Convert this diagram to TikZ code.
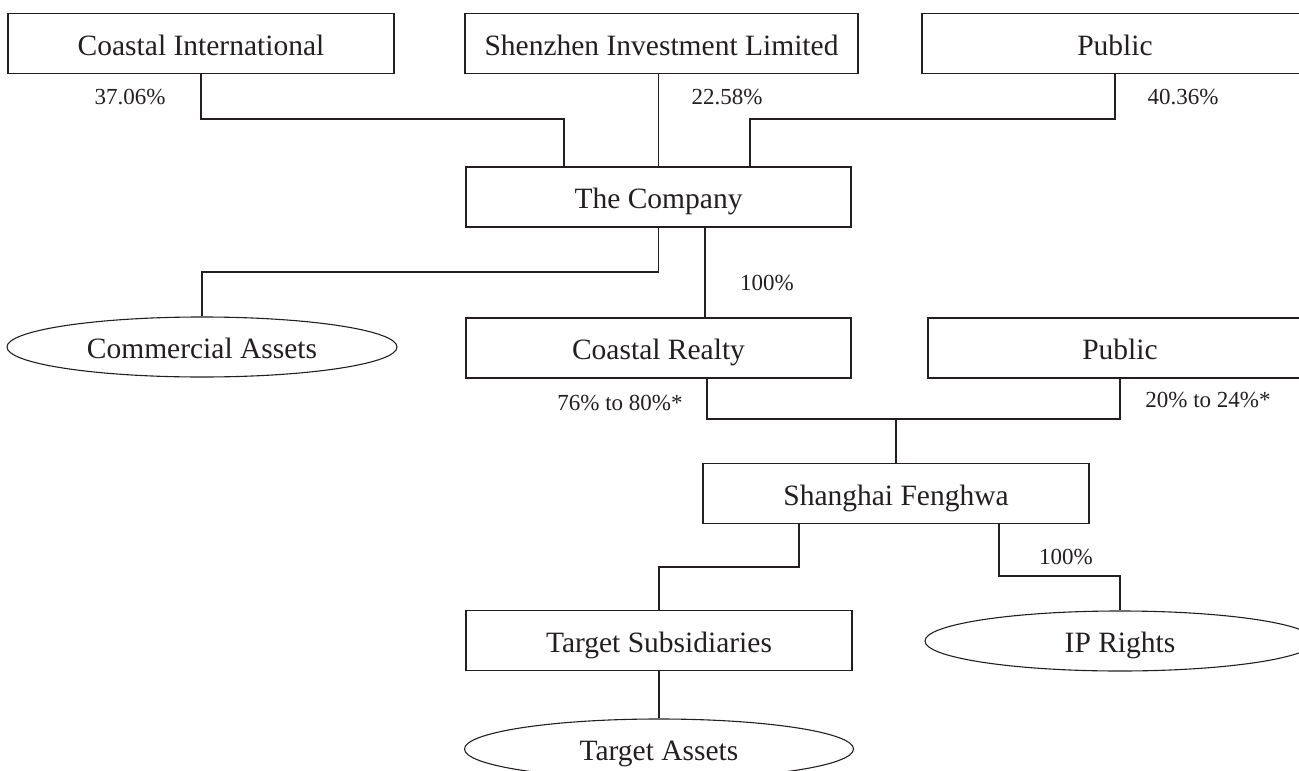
\documentclass[tikz,border=0pt]{standalone}
\usepackage{fontspec}
\setmainfont{Liberation Serif}
\usetikzlibrary{shapes.geometric,calc}
\definecolor{ink}{HTML}{231F20}
\begin{document}
\begin{tikzpicture}[x=1pt,y=-1pt,
  conn/.style={draw=ink,line width=1.1pt},
  entbox/.style={draw=ink,line width=1.1pt,rectangle,inner sep=0pt,minimum height=60pt,text height=23.5pt,text depth=0pt,text=ink,font=\fontsize{29.5}{34}\selectfont},
  assetell/.style={draw=ink,line width=1.1pt,ellipse,inner sep=0pt,minimum width=390pt,minimum height=60pt,text height=23.5pt,text depth=0pt,text=ink,font=\fontsize{29.5}{34}\selectfont},
  pct/.style={inner sep=0pt,text=ink,font=\fontsize{23}{27}\selectfont}]
\useasboundingbox (0,0) rectangle (1299,771);
% entities
\node[entbox,minimum width=386pt] (CI) at (201,43.5) {Coastal International};
\node[entbox,minimum width=393pt] (SIL) at (661.5,43.5) {Shenzhen Investment Limited};
\node[entbox,minimum width=386pt] (PUB1) at (1115,43.5) {Public};
\node[entbox,minimum width=385pt] (Co) at (658.5,197) {The Company};
\node[assetell] (CA) at (202,347) {Commercial Assets};
\node[entbox,minimum width=385pt] (CR) at (658.5,348) {Coastal Realty};
\node[entbox,minimum width=384pt] (PUB2) at (1120,348) {Public};
\node[entbox,minimum width=386pt] (SF) at (896,493.5) {Shanghai Fenghwa};
\node[entbox,minimum width=386pt] (TS) at (659,640.5) {Target Subsidiaries};
\node[assetell] (IP) at (1120,641) {IP Rights};
\node[assetell,minimum width=389pt] (TA) at (659,749) {Target Assets};
% junctions
\coordinate (j1) at (564,119);
\coordinate (j2) at (750,119);
\coordinate (j3) at (202,272);
\coordinate (j4) at (896,419);
\coordinate (j4r) at (1120,419);
\coordinate (j5) at (659,567);
\coordinate (j6) at (1120,576);
% connectors
\draw[conn] (CI.south) |- (j1) -- (j1 |- Co.north);
\draw[conn] (SIL.south -| Co.north) -- (Co.north);
\draw[conn] (PUB1.south) |- (j2) -- (j2 |- Co.north);
\draw[conn] (Co.south) |- (j3) -- (CA.north);
\draw[conn] ([xshift=46.5pt]Co.south) -- ([xshift=46.5pt]CR.north);
\draw[conn] ([xshift=48.5pt]CR.south) |- (j4r) -- (PUB2.south);
\draw[conn] (j4) -- (SF.north);
\draw[conn] ([xshift=-97pt]SF.south) |- (j5) -- (TS.north);
\draw[conn] ([xshift=103pt]SF.south) |- (j6) -- (IP.north);
\draw[conn] (TS.south) -- (TA.north);
% labels
\node[pct] (l1) at (130,97) {37.06\%};
\node[pct] (l2) at (727,97) {22.58\%};
\node[pct] (l3) at (1183,97) {40.36\%};
\node[pct] (l4) at (767,283) {100\%};
\node[pct] (l5) at (620,403) {76\% to 80\%*};
\node[pct] (l6) at (1208,400) {20\% to 24\%*};
\node[pct] (l7) at (1066,557) {100\%};
\end{tikzpicture}
\end{document}
